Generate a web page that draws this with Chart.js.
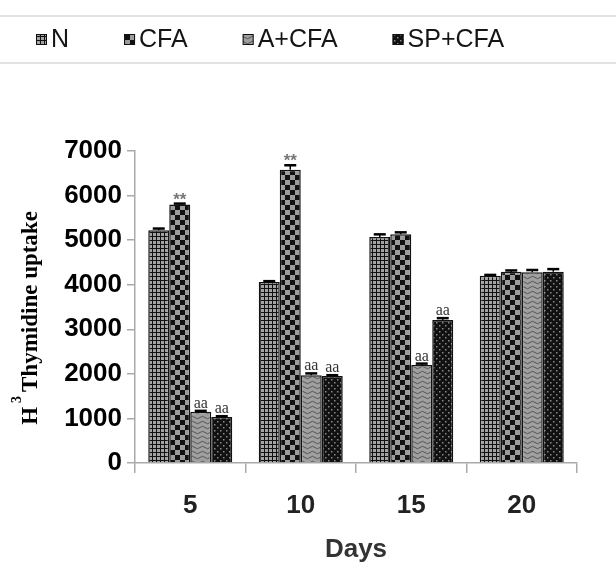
<!DOCTYPE html>
<html>
<head>
<meta charset="utf-8">
<script src="https://cdn.jsdelivr.net/npm/chart.js@4.4.0/dist/chart.umd.min.js"></script>
<style>
  html, body { margin: 0; padding: 0; background: #fff; }
</style>
</head>
<body>
<canvas id="chart" width="616" height="563"></canvas>
<script>
const days = ["5", "10", "15", "20"];
const seriesNames = ["N", "CFA", "A+CFA", "SP+CFA"];
const nValues = [5220, 4060, 5070, 4200];
const cfaValues = [5800, 6580, 5130, 4290];
const aCfaValues = [1150, 1970, 2200, 4280];
const spCfaValues = [1030, 1950, 3210, 4290];
const nErr = [40, 20, 60, 20];
const cfaErr = [20, 100, 45, 30];
const aCfaErr = [20, 40, 30, 50];
const spCfaErr = [20, 20, 40, 60];
const cfaMarks = ["**", "**", "", ""];
const aCfaMarks = ["aa", "aa", "aa", ""];
const spCfaMarks = ["aa", "aa", "aa", ""];
const yTicks = [0, 1000, 2000, 3000, 4000, 5000, 6000, 7000];

// fill patterns
function makePattern(w, h, draw) {
  const c = document.createElement("canvas");
  c.width = w; c.height = h;
  const g = c.getContext("2d");
  draw(g);
  return g.createPattern(c, "repeat");
}
const gridPat = makePattern(4, 4, g => {
  g.fillStyle = "#111"; g.fillRect(0, 0, 4, 4);
  g.fillStyle = "#a3a3a3"; g.fillRect(1, 1, 3, 3);
});
const checkPat = makePattern(10, 10, g => {
  g.fillStyle = "#111"; g.fillRect(0, 0, 10, 10);
  g.fillStyle = "#9c9c9c"; g.fillRect(5, 0, 5, 5); g.fillRect(0, 5, 5, 5);
});
const wavePat = makePattern(10, 5, g => {
  g.fillStyle = "#a0a0a0"; g.fillRect(0, 0, 10, 5);
  g.strokeStyle = "#555"; g.lineWidth = 1;
  g.beginPath();
  g.moveTo(0, 2.5);
  g.quadraticCurveTo(2.5, 0, 5, 2.5);
  g.quadraticCurveTo(7.5, 5, 10, 2.5);
  g.stroke();
});
const dotPat = makePattern(6, 6, g => {
  g.fillStyle = "#111"; g.fillRect(0, 0, 6, 6);
  g.fillStyle = "#8a8a8a";
  g.fillRect(1, 1, 1.5, 1.5); g.fillRect(4, 4, 1.5, 1.5);
});

const decor = {
  id: "decor",
  afterDatasetsDraw(chart) {
    const ctx = chart.ctx;
    const y = chart.scales.y;
    ctx.save();
    chart.data.datasets.forEach((ds, di) => {
      const meta = chart.getDatasetMeta(di);
      meta.data.forEach((bar, i) => {
        const top = y.getPixelForValue(ds.data[i] + ds.err[i]);
        ctx.strokeStyle = "#000";
        ctx.lineWidth = 1.5;
        ctx.beginPath(); ctx.moveTo(bar.x, bar.y); ctx.lineTo(bar.x, top); ctx.stroke();
        ctx.lineWidth = 2.5;
        ctx.beginPath(); ctx.moveTo(bar.x - 6, top); ctx.lineTo(bar.x + 6, top); ctx.stroke();
        const m = ds.marks ? ds.marks[i] : "";
        if (m === "**") {
          ctx.fillStyle = "#777";
          ctx.font = "bold 17px 'Liberation Sans'";
          ctx.textAlign = "center"; ctx.textBaseline = "alphabetic";
          ctx.fillText(m, bar.x, top + 1);
        } else if (m) {
          ctx.fillStyle = "#333";
          ctx.font = "16px 'Liberation Serif'";
          ctx.textAlign = "center"; ctx.textBaseline = "alphabetic";
          ctx.fillText(m, bar.x, top - 3);
        }
      });
    });
    ctx.restore();
  },
  afterDraw(chart) {
    const ctx = chart.ctx;
    ctx.save();
    // legend frame lines
    ctx.strokeStyle = "#e2e2e2"; ctx.lineWidth = 2;
    [16, 63].forEach(ly => { ctx.beginPath(); ctx.moveTo(0, ly); ctx.lineTo(616, ly); ctx.stroke(); });
    // legend items
    ctx.font = "25px 'Liberation Sans'";
    const box = 11, gap = 4, itemGap = 55;
    const widths = chart.data.datasets.map(ds => box + gap + ctx.measureText(ds.label).width);
    let x = 36;
    chart.data.datasets.forEach((ds, i) => {
      ctx.fillStyle = ds.backgroundColor;
      ctx.fillRect(x, 34, box, box);
      ctx.strokeStyle = "#111"; ctx.lineWidth = 1;
      ctx.strokeRect(x + 0.5, 34.5, box - 1, box - 1);
      ctx.fillStyle = "#151515";
      ctx.textAlign = "left"; ctx.textBaseline = "middle";
      ctx.fillText(ds.label, x + box + gap, 40);
      x += widths[i] + itemGap;
    });
    // y axis title with superscript
    const big = "bold 23px 'Liberation Serif'", small = "bold 14px 'Liberation Serif'";
    ctx.font = big;
    const wH = ctx.measureText("H").width;
    const wRest = ctx.measureText("Thymidine uptake").width;
    ctx.font = small;
    const w3 = ctx.measureText("3").width;
    const total = wH + 4 + w3 + 4 + wRest;
    ctx.translate(37, 318);
    ctx.rotate(-Math.PI / 2);
    ctx.fillStyle = "#000";
    ctx.textAlign = "left"; ctx.textBaseline = "alphabetic";
    let t = -total / 2;
    ctx.font = big; ctx.fillText("H", t, 0); t += wH + 4;
    ctx.font = small; ctx.fillText("3", t, -16); t += w3 + 4;
    ctx.font = big; ctx.fillText("Thymidine uptake", t, 0);
    ctx.restore();
  }
};

const sets = [
  { label: seriesNames[0], data: nValues, backgroundColor: gridPat, err: nErr },
  { label: seriesNames[1], data: cfaValues, backgroundColor: checkPat, err: cfaErr, marks: cfaMarks },
  { label: seriesNames[2], data: aCfaValues, backgroundColor: wavePat, err: aCfaErr, marks: aCfaMarks },
  { label: seriesNames[3], data: spCfaValues, backgroundColor: dotPat, err: spCfaErr, marks: spCfaMarks }
].map(d => Object.assign(d, { borderColor: "#111", borderWidth: 1.5, categoryPercentage: 0.76, barPercentage: 1.0 }));

new Chart(document.getElementById("chart"), {
  type: "bar",
  data: { labels: days, datasets: sets },
  options: {
    responsive: false,
    animation: false,
    devicePixelRatio: 1,
    layout: { padding: { top: 151, right: 39, left: 0, bottom: 0 } },
    plugins: { legend: { display: false }, tooltip: { enabled: false } },
    scales: {
      x: {
        grid: { drawOnChartArea: false, offset: true, color: "#aaa", lineWidth: 1.5, tickLength: 10 },
        border: { color: "#aaa", width: 1.5 },
        ticks: { color: "#222", padding: 17, font: { family: "'Liberation Sans'", size: 26, weight: "bold" } },
        title: {
          display: true, text: "Days", color: "#333",
          font: { family: "'Liberation Sans'", size: 26, weight: "bold", lineHeight: 1 },
          padding: { top: 0, bottom: 0 }
        },
        afterFit: s => { s.height = 100; }
      },
      y: {
        min: 0, max: 7000,
        afterBuildTicks: s => { s.ticks = yTicks.map(v => ({ value: v })); },
        grid: { drawOnChartArea: false, color: "#aaa", lineWidth: 1.5, tickLength: 8 },
        border: { color: "#aaa", width: 1.5 },
        ticks: {
          color: "#000", padding: 5,
          font: { family: "'Liberation Sans'", size: 26, weight: "bold" },
          callback: v => String(v)
        },
        afterFit: s => { s.width = 135; }
      }
    }
  },
  plugins: [decor]
});
</script>
</body>
</html>
